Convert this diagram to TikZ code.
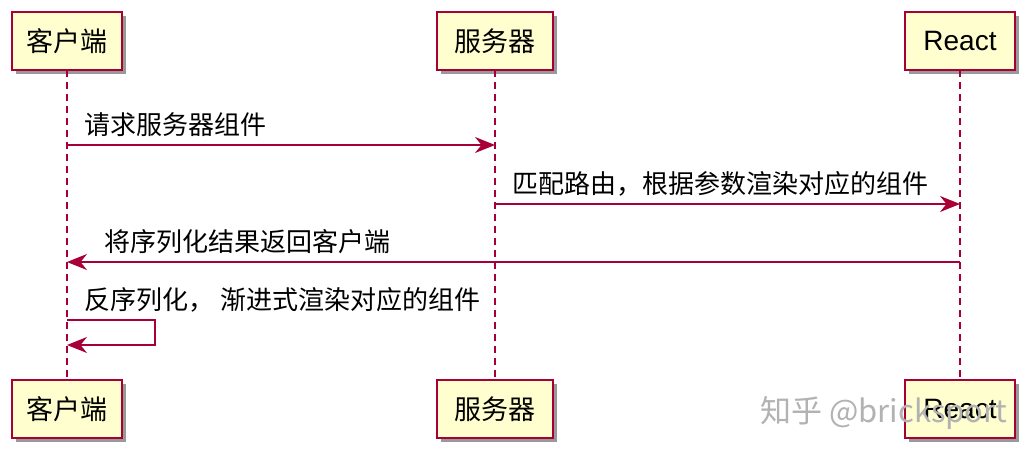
\documentclass[tikz,border=0pt]{standalone}
\usepackage{fontspec}
\setmainfont{Liberation Sans}
\newfontfamily\cjk{Noto Sans CJK SC}
\usetikzlibrary{arrows.meta}
\definecolor{bd}{HTML}{A80036}
\definecolor{bg}{HTML}{FEFECE}
\tikzset{
 part/.style={draw=bd,fill=bg,line width=1.5pt,minimum width=#1,minimum height=58pt,inner sep=0pt,font=\fontsize{27}{29}\selectfont\cjk},
 shad/.style={fill=black!40,minimum width=#1,minimum height=58pt,inner sep=0pt},
 life/.style={draw=bd,dashed,line width=1.2pt,dash pattern=on 7pt off 5pt},
 msg/.style={draw=bd,line width=1.5pt,-{Stealth[length=20pt,width=16pt]}},
 lab/.style={font=\fontsize{26}{28}\selectfont\cjk,inner sep=0pt}
}
\begin{document}
\begin{tikzpicture}[x=1pt,y=-1pt]
\useasboundingbox[fill=white] (0,0) rectangle (1033,466);
\foreach \x/\w in {67/110,495/116,960/110}{
 \node[shad=\w] at (\x+4,45) {};
 \node[shad=\w] at (\x+4,413) {};
}
\draw[life] (67,70) -- (67,380);
\draw[life] (495,70) -- (495,380);
\draw[life] (960,70) -- (960,380);
\node[part=110pt] (ct) at (67,41) {客户端};
\node[part=116pt] (st) at (495,41) {服务器};
\node[part=110pt] (rt) at (960,41) {\fontspec{Liberation Sans}\fontsize{28}{30}\selectfont React};
\node[part=110pt] (cb) at (67,409) {客户端};
\node[part=116pt] (sb) at (495,409) {服务器};
\node[part=110pt] (rb) at (960,409) {\fontspec{Liberation Sans}\fontsize{28}{30}\selectfont React};
\coordinate (c1) at (67,145); \coordinate (s1) at (495,145);
\coordinate (s2) at (495,204); \coordinate (r2) at (960,204);
\coordinate (r3) at (960,262); \coordinate (c3) at (67,262);
\coordinate (c4) at (67,320); \coordinate (c5) at (67,345);
\draw[msg] (c1) -- (s1);
\node[lab,anchor=south west] at (84,137) {请求服务器组件};
\draw[msg] (s2) -- (r2);
\node[lab,anchor=south west] at (512,196) {匹配路由，根据参数渲染对应的组件};
\draw[msg] (r3) -- (c3);
\node[lab,anchor=south west] at (104,254) {将序列化结果返回客户端};
\draw[msg] (c4) -- (155,320) -- (155,345) -- (c5);
\node[lab,anchor=south west] at (84,312) {反序列化，\ 渐进式渲染对应的组件};
\node[font=\fontsize{31}{33}\selectfont\cjk,text=black!30,anchor=west,inner sep=0pt] (wm) at (760,413) {知乎 @bricksport};
\end{tikzpicture}
\end{document}
